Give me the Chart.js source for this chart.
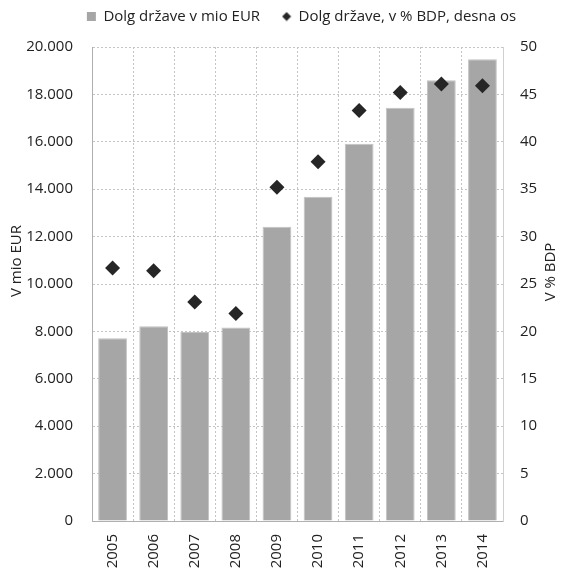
<!DOCTYPE html>
<html>
<head>
<meta charset="utf-8">
<title>Dolg države</title>
<script src="https://cdn.jsdelivr.net/npm/chart.js@4/dist/chart.umd.min.js"></script>
<style>
  html, body { margin: 0; padding: 0; background: #fff; }
  #wrap { width: 561px; height: 570px; }
</style>
</head>
<body>
<div id="wrap"><canvas id="chart" width="561" height="570"></canvas></div>
<script>
// Government debt of Slovenia, 2005–2014
const years = ['2005', '2006', '2007', '2008', '2009', '2010', '2011', '2012', '2013', '2014'];
const debtMioEur = [7710, 8220, 7970, 8160, 12420, 13680, 15920, 17440, 18600, 19480];
const debtPctGdp = [26.7, 26.4, 23.1, 21.9, 35.2, 37.9, 43.3, 45.2, 46.1, 45.9];

const labelBars = 'Dolg države v mio EUR';
const labelPoints = 'Dolg države, v % BDP, desna os';
const titleLeft = 'V mio EUR';
const titleRight = 'V % BDP';

const FONT = "'Open Sans', 'DejaVu Sans', sans-serif";
const FONT_SIZE = 15;
const TEXT = '#222222';
const GRID = '#c4c4c4';
const AXIS = '#b0b0b0';

Chart.defaults.font.family = FONT;
Chart.defaults.font.size = FONT_SIZE;
Chart.defaults.color = TEXT;

// thousands separator with a dot: 20000 -> 20.000
const fmtThousands = v => String(v).replace(/\B(?=(\d{3})+(?!\d))/g, '.');

// small diamond used as the legend symbol of the point series
const legendDiamond = (() => {
  const c = document.createElement('canvas');
  c.width = 10; c.height = 10;
  const g = c.getContext('2d');
  g.fillStyle = '#262626';
  g.beginPath();
  g.moveTo(5, 0.5); g.lineTo(9.5, 5); g.lineTo(5, 9.5); g.lineTo(0.5, 5);
  g.closePath(); g.fill();
  return c;
})();

// rotated axis titles
const axisTitles = {
  id: 'axisTitles',
  afterDraw(chart) {
    const { ctx, chartArea: a } = chart;
    ctx.save();
    ctx.font = FONT_SIZE + 'px ' + FONT;
    ctx.fillStyle = TEXT;
    ctx.textAlign = 'center';
    ctx.textBaseline = 'middle';
    ctx.save();
    ctx.translate(a.left - 75, a.top + 214);
    ctx.rotate(-Math.PI / 2);
    ctx.fillText(titleLeft, 0, 0);
    ctx.restore();
    ctx.save();
    ctx.translate(a.right + 48, a.top + 225);
    ctx.rotate(-Math.PI / 2);
    ctx.fillText(titleRight, 0, 0);
    ctx.restore();
    ctx.restore();
  }
};

// place the legend row a little higher and to the right
const legendPlace = {
  id: 'legendPlace',
  afterLayout(chart) {
    const lg = chart.legend;
    if (lg) {
      lg.top -= 13;
      lg.bottom -= 13;
      lg.left += 21;
      lg.right += 21;
    }
  }
};

new Chart(document.getElementById('chart'), {
  type: 'bar',
  data: {
    labels: years,
    datasets: [
      {
        type: 'bar',
        label: labelBars,
        data: debtMioEur,
        yAxisID: 'y',
        backgroundColor: '#a6a6a6',
        borderColor: '#c2c2c2',
        borderWidth: 1,
        categoryPercentage: 1,
        barPercentage: 0.7,
        order: 2
      },
      {
        type: 'line',
        label: labelPoints,
        data: debtPctGdp,
        yAxisID: 'y1',
        showLine: false,
        pointStyle: 'rectRot',
        pointRadius: 7.5,
        pointHoverRadius: 7.5,
        pointBackgroundColor: '#262626',
        pointBorderColor: '#262626',
        pointBorderWidth: 0,
        backgroundColor: '#262626',
        borderColor: '#262626',
        order: 1
      }
    ]
  },
  options: {
    responsive: false,
    devicePixelRatio: 1,
    animation: false,
    layout: { padding: 0 },
    plugins: {
      tooltip: { enabled: false },
      legend: {
        position: 'top',
        labels: {
          usePointStyle: true,
          boxWidth: 9,
          boxHeight: 9,
          padding: 22,
          font: { size: FONT_SIZE },
          color: TEXT,
          generateLabels(chart) {
            const items = Chart.defaults.plugins.legend.labels.generateLabels(chart);
            items.sort((a, b) => a.datasetIndex - b.datasetIndex);
            items.forEach(it => {
              it.pointStyle = it.datasetIndex === 1 ? legendDiamond : 'rect';
              it.lineWidth = 0;
            });
            return items;
          }
        }
      }
    },
    scales: {
      x: {
        offset: true,
        grid: { display: true, offset: true, color: GRID, drawTicks: false },
        border: { display: true, color: AXIS, width: 1, dash: [2, 2] },
        ticks: {
          autoSkip: false,
          maxRotation: 90,
          minRotation: 90,
          padding: 13
        },
        afterFit(scale) { scale.height = 49; }
      },
      y: {
        position: 'left',
        min: 0,
        max: 20000,
        grid: { color: GRID, drawTicks: false },
        border: { display: true, color: AXIS, width: 1, dash: [2, 2] },
        ticks: {
          stepSize: 2000,
          padding: 19,
          callback: v => fmtThousands(v)
        },
        afterFit(scale) { scale.width = 92; }
      },
      y1: {
        position: 'right',
        min: 0,
        max: 50,
        grid: { display: false, drawTicks: false },
        border: { display: true, color: '#d0d0d0', width: 1 },
        ticks: {
          stepSize: 5,
          padding: 17
        },
        afterFit(scale) { scale.width = 58; }
      }
    }
  },
  plugins: [axisTitles, legendPlace]
});
</script>
</body>
</html>
